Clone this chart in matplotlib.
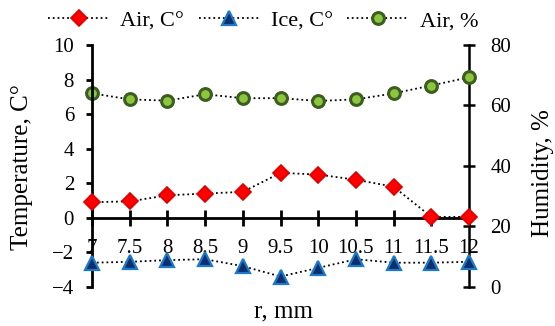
import numpy as np
import matplotlib
matplotlib.use('Agg')
import matplotlib.pyplot as plt

plt.rcParams['font.family'] = ['Liberation Serif', 'DejaVu Serif']

r_mm = [7, 7.5, 8, 8.5, 9, 9.5, 10, 10.5, 11, 11.5, 12]
air_temp = [0.9, 0.95, 1.3, 1.4, 1.5, 2.6, 2.5, 2.2, 1.8, 0.05, 0.05]
ice_temp = [-2.6, -2.55, -2.45, -2.4, -2.8, -3.4, -2.9, -2.4, -2.6, -2.6, -2.55]
air_hum = [64.0, 62.0, 61.6, 63.7, 62.4, 62.4, 61.5, 62.0, 64.0, 66.6, 69.3]
xtick_labels = ['7', '7.5', '8', '8.5', '9', '9.5', '10', '10.5', '11', '11.5', '12']

fs = 15
fs_lab = 18

fig = plt.figure(figsize=(5.55, 3.26), dpi=100)
ax = fig.add_axes([0.166, 0.120, 0.679, 0.742])
ax2 = ax.twinx()

l1, = ax.plot(r_mm, air_temp, ls=':', color='black', lw=1.3, marker='D', ms=8.5,
              mfc='#ff0000', mec='#dd0000', mew=1.2, label='Air, C°', clip_on=False, zorder=5)
l2, = ax.plot(r_mm, ice_temp, ls=':', color='black', lw=1.3, marker='^', ms=9.5,
              mfc='#0d2f6e', mec='#1e78c8', mew=1.6, label='Ice, C°', clip_on=False, zorder=5)
l3, = ax2.plot(r_mm, air_hum, ls=':', color='black', lw=1.3, marker='o', ms=8.5,
               mfc='#8cc63f', mec='#3b5e1f', mew=2.2, label='Air, %', clip_on=False, zorder=5)

ax.set_xlim(7, 12)
ax.set_ylim(-4, 10)
ax.set_yticks(np.arange(-4, 11, 2))
ax2.set_ylim(0, 80)
ax2.set_yticks(np.arange(0, 81, 20))

ax.set_xticks(r_mm)
ax.set_xticklabels(xtick_labels)
ax.spines['bottom'].set_position(('data', 0))
ax.spines['bottom'].set_linewidth(2)
ax.spines['left'].set_linewidth(2)
ax.spines['top'].set_visible(False)
ax.spines['right'].set_visible(False)
ax2.spines['top'].set_visible(False)
ax2.spines['left'].set_visible(False)
ax2.spines['bottom'].set_visible(False)
ax2.spines['right'].set_linewidth(1.8)

ax.tick_params(axis='x', direction='inout', length=11, width=2, pad=10, labelsize=fs)
ax.tick_params(axis='y', direction='out', length=4, width=2, labelsize=fs, pad=9)
ax2.tick_params(axis='y', direction='inout', length=9, width=1.8, labelsize=fs, pad=11)

ax.set_xlabel('r, mm', fontsize=fs_lab)
ax.xaxis.label.set_va('center')
ax.xaxis.set_label_coords(0.509, -0.103)
ax.set_ylabel('Temperature, C°', fontsize=fs_lab)
ax.yaxis.set_label_coords(-0.157, 0.494)
ax2.set_ylabel('Humidity, %', fontsize=fs_lab)
ax2.yaxis.set_label_coords(1.167, 0.47)

fig.legend(handles=[l1, l2, l3], loc='center', bbox_to_anchor=(0.474, 0.936),
           ncol=3, frameon=False, fontsize=16, handlelength=2.75, numpoints=1,
           columnspacing=0.65, handletextpad=0.5, borderpad=0, borderaxespad=0)

ax.set_zorder(ax2.get_zorder() + 1)
ax.patch.set_visible(False)

fig.savefig('out.png', dpi=100)
